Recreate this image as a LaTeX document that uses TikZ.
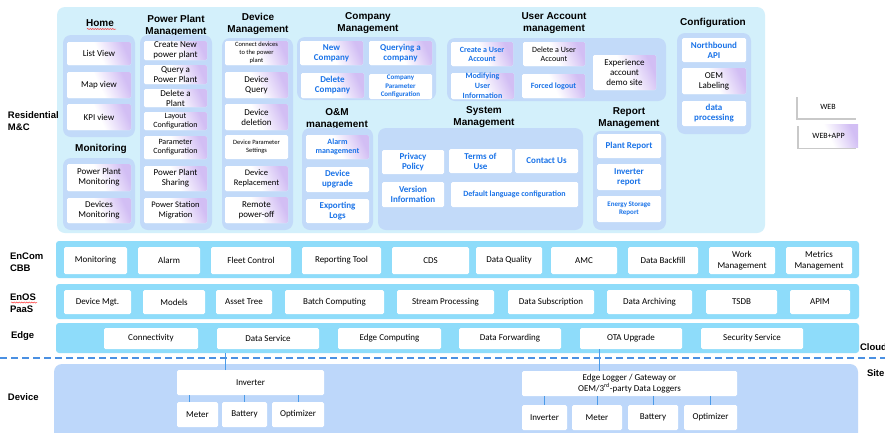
\documentclass[tikz,border=0pt]{standalone}
\usepackage{fontspec}
\setmainfont{Carlito}
\newfontfamily\arf{Liberation Sans}
\usetikzlibrary{shadows,decorations.pathmorphing}
\definecolor{panel}{HTML}{D3F0FB}
\definecolor{grp}{HTML}{C2DAF9}
\definecolor{band}{HTML}{8EDCFA}
\definecolor{devp}{HTML}{BDD7FA}
\definecolor{lav}{HTML}{D2BEF4}
\definecolor{bluetxt}{HTML}{1A73E8}
\definecolor{dashc}{HTML}{4A90E2}
\definecolor{linec}{HTML}{4A9AE8}
\newcommand{\bx}[7]{\node[#1, minimum width={(#5-#3)*1pt}, minimum height={(#6-#4)*1pt}] (#2) at ({(#3+#5)/2},{(#4+#6)/2}) {#7};}
\newcommand{\fsz}[1]{\pgfmathsetmacro\mylsk{#1*1.12}\fontsize{#1}{\mylsk}\selectfont}
\tikzset{
  x=1pt, y=-1pt,
  every node/.style={inner sep=0pt, outer sep=0pt},
  wbox/.style={fill=white, rounded corners=1.5pt, align=center, text=black},
  gbox/.style={wbox, left color=white, right color=lav, middle color=white, shading angle=115},
  grpbox/.style={fill=grp, rounded corners=8pt},
  bandbox/.style={fill=band, rounded corners=3pt},
  bt/.style={text=bluetxt, font=\bfseries\fsz{#1}},
  bt/.default=9,
  nt/.style={font=\fsz{#1}},
  nt/.default=9,
  ttl/.style={font=\arf\bfseries\fontsize{10}{11.5}\selectfont, align=center},
  lbl/.style={font=\arf\bfseries\fontsize{9.5}{12}\selectfont, align=left, anchor=west},
  conn/.style={draw=linec, line width=0.9pt},
  wavy/.style={draw=red!80, line width=0.5pt, decorate, decoration={snake, amplitude=0.6pt, segment length=2.5pt}},
  shad/.style={drop shadow={shadow xshift=-1.6pt, shadow yshift=-1.6pt, opacity=0.35, fill=black!60}}
}
\begin{document}
\begin{tikzpicture}
\clip (0,0) rectangle (885,432);
\useasboundingbox (0,0) rectangle (885,432);
\fill[white] (0,0) rectangle (885,432);

% ===== Residential panel =====
\bx{fill=panel, rounded corners=8pt}{respanel}{57}{7}{765}{233}{}
\node[lbl] (lres) at (8,121) {Residential\\M\&C};

% Home
\node[ttl] (tHome) at (100,23) {Home};
\draw[wavy] (87,29) -- (116,29);
\bx{grpbox}{gHome}{63}{35}{135}{137}{}
\bx{gbox,nt}{hList}{67}{42}{131}{65}{List View}
\bx{gbox,nt}{hMap}{67}{72}{131}{98}{Map view}
\bx{gbox,nt}{hKPI}{67}{104}{131}{130}{KPI view}

% Monitoring
\node[ttl] (tMon) at (101,149) {Monitoring};
\bx{grpbox}{gMon}{63}{158}{135}{230}{}
\bx{gbox,nt}{mPP}{67}{164}{131}{191}{Power Plant\\Monitoring}
\bx{gbox,nt}{mDev}{67}{198}{131}{223}{Devices\\Monitoring}

% Power Plant Management
\node[ttl] (tPPM) at (176,26) {Power Plant\\Management};
\bx{grpbox}{gPPM}{140}{35}{212}{230}{}
\bx{gbox,nt}{cNew}{144}{41}{207}{60}{Create New\\power plant}
\bx{gbox,nt}{qPP}{144}{65}{207}{84}{Query a\\Power Plant}
\bx{gbox,nt}{dPl}{144}{89}{207}{107}{Delete a\\Plant}
\bx{gbox,nt=8}{lay}{144}{112}{207}{130}{Layout\\Configuration}
\bx{gbox,nt=8}{par}{144}{136}{207}{159}{Parameter\\Configuration}
\bx{gbox,nt}{shr}{144}{166}{207}{191}{Power Plant\\Sharing}
\bx{gbox,nt=8.5}{mig}{144}{198}{207}{223}{Power Station\\Migration}

% Device Management
\node[ttl] (tDM) at (258,24) {Device\\Management};
\bx{grpbox}{gDM}{222}{38}{293}{230}{}
\bx{gbox,font=\fontsize{6.5}{8}\selectfont}{con}{225}{41}{288}{65}{Connect devices\\to the power\\plant}
\bx{gbox,nt}{dq}{225}{72}{288}{98}{Device\\Query}
\bx{gbox,nt}{dd}{225}{104}{288}{130}{Device\\deletion}
\bx{wbox,font=\fontsize{6.5}{8}\selectfont}{dps}{225}{135}{288}{159}{Device Parameter\\Settings}
\bx{gbox,nt=8.5}{drep}{225}{166}{288}{191}{Device\\Replacement}
\bx{gbox,nt}{rpo}{225}{197}{288}{223}{Remote\\power-off}

% Company Management
\node[ttl] (tCM) at (368,23) {Company\\Management};
\bx{grpbox}{gCM}{297}{37}{436}{100}{}
\bx{gbox,bt}{nc}{300}{41}{363}{65}{New\\Company}
\bx{gbox,bt}{qc}{369}{41}{432}{65}{Querying a\\company}
\bx{gbox,bt}{dc}{301}{73}{364}{98}{Delete\\Company}
\bx{wbox,text=bluetxt,font=\bfseries\fontsize{7}{8.5}\selectfont}{cpc}{369}{74}{432}{99}{Company\\Parameter\\Configuration}

% O&M management
\node[ttl] (tOM) at (337,119) {O\&M\\management};
\bx{grpbox}{gOM}{302}{128}{373}{230}{}
\bx{gbox,bt=8}{alm}{306}{135}{369}{159}{Alarm\\management}
\bx{wbox,bt}{dup}{306}{167}{369}{192}{Device\\upgrade}
\bx{wbox,bt}{exl}{306}{199}{369}{223}{Exporting\\Logs}

% System Management
\node[ttl] (tSM) at (484,117) {System\\Management};
\bx{grpbox}{gSM}{378}{128}{583}{230}{}
\bx{wbox,bt}{pp}{382}{150}{444}{174}{Privacy\\Policy}
\bx{wbox,bt}{tou}{449}{149}{512}{173}{Terms of\\Use}
\bx{wbox,bt}{cu}{515}{149}{578}{173}{Contact Us}
\bx{wbox,bt}{vi}{382}{182}{444}{207}{Version\\Information}
\bx{wbox,bt=8}{dlc}{451}{182}{578}{207}{Default language configuration}

% User Account management
\node[ttl] (tUA) at (554,23) {User Account\\management};
\bx{grpbox}{gUA}{447}{38}{666}{101}{}
\bx{gbox,bt=8}{cua}{451}{42}{513}{66}{Create a User\\Account}
\bx{gbox,nt=8}{dua}{523}{42}{585}{66}{Delete a User\\Account}
\bx{gbox,nt}{exp}{593}{55}{656}{90}{Experience\\account\\demo site}
\bx{gbox,text=bluetxt,font=\bfseries\fontsize{8}{9.8}\selectfont}{mui}{451}{73}{514}{99}{Modifying\\User\\Information}
\bx{gbox,bt=8}{fl}{522}{74}{585}{98}{Forced logout}

% Report Management
\node[ttl] (tRM) at (629,118) {Report\\Management};
\bx{grpbox}{gRM}{593}{131}{666}{230}{}
\bx{wbox,bt}{pr}{597}{134}{661}{158}{Plant Report}
\bx{wbox,bt}{ir}{597}{164}{661}{190}{Inverter\\report}
\bx{wbox,text=bluetxt,font=\bfseries\fontsize{7}{8}\selectfont}{esr}{597}{196}{661}{222}{Energy Storage\\Report}

% Configuration
\node[ttl] (tCfg) at (713,23) {Configuration};
\bx{grpbox}{gCfg}{677}{33}{751}{134}{}
\bx{wbox,bt}{nba}{682}{38}{746}{62}{Northbound\\API}
\bx{gbox,nt}{oem}{682}{68}{746}{94}{OEM\\Labeling}
\bx{wbox,bt}{dp}{682}{101}{746}{126}{data\\processing}

% Legend
\bx{wbox,shad,nt=8,rounded corners=0pt}{lweb}{798}{95}{858}{118}{WEB}
\bx{gbox,shad,nt=8,rounded corners=0pt}{lwa}{799}{124}{858}{147}{WEB+APP}

% ===== EnCom CBB =====
\bx{bandbox}{encom}{56}{241}{859}{278}{}
\node[lbl] (lenc) at (10,262) {EnCom\\CBB};
\bx{wbox,nt}{e1}{64}{247}{127}{274}{Monitoring}
\bx{wbox,nt}{e2}{138}{247}{200}{274}{Alarm}
\bx{wbox,nt}{e3}{211}{247}{291}{274}{Fleet Control}
\bx{wbox,nt}{e4}{302}{247}{381}{274}{Reporting Tool}
\bx{wbox,nt}{e5}{392}{247}{469}{274}{CDS}
\bx{wbox,nt}{e6}{476}{247}{542}{274}{Data Quality}
\bx{wbox,nt}{e7}{551}{247}{617}{274}{AMC}
\bx{wbox,nt}{e8}{628}{247}{698}{274}{Data Backfill}
\bx{wbox,font=\fontsize{9}{11}\selectfont}{e9}{709}{247}{775}{274}{Work\\Management}
\bx{wbox,font=\fontsize{9}{11}\selectfont}{e10}{786}{247}{852}{274}{Metrics\\Management}

% ===== EnOS PaaS =====
\bx{bandbox}{enos}{56}{284}{859}{319}{}
\node[lbl] (lenos) at (10,303) {EnOS\\PaaS};
\draw[wavy] (11,302.5) -- (37,302.5);
\bx{wbox,nt}{p1}{64}{290}{131}{314}{Device Mgt.}
\bx{wbox,nt}{p2}{143}{290}{205}{314}{Models}
\bx{wbox,nt}{p3}{216}{290}{272}{314}{Asset Tree}
\bx{wbox,nt}{p4}{285}{290}{384}{314}{Batch Computing}
\bx{wbox,nt}{p5}{397}{290}{494}{314}{Stream Processing}
\bx{wbox,nt}{p6}{508}{290}{594}{314}{Data Subscription}
\bx{wbox,nt}{p7}{607}{290}{692}{314}{Data Archiving}
\bx{wbox,nt}{p8}{706}{290}{777}{314}{TSDB}
\bx{wbox,nt}{p9}{790}{290}{850}{314}{APIM}

% ===== Edge =====
\bx{bandbox}{edge}{56}{323}{859}{353}{}
\node[lbl] (ledge) at (11,336) {Edge};
\bx{wbox,nt}{g1}{104}{328}{198}{349}{Connectivity}
\bx{wbox,nt}{g2}{217}{328}{319}{349}{Data Service}
\bx{wbox,nt}{g3}{338}{328}{441}{349}{Edge Computing}
\bx{wbox,nt}{g4}{459}{328}{561}{349}{Data Forwarding}
\bx{wbox,nt}{ota}{580}{328}{682}{349}{OTA Upgrade}
\bx{wbox,nt}{g6}{701}{328}{803}{349}{Security Service}

% Cloud / Site
\coordinate (dl) at (0,358);
\coordinate (dr) at (885,358);
\draw[dashc, line width=1.8pt, dash pattern=on 7pt off 4pt] (dl) -- (dr);
\node[lbl] (lcloud) at (860,347) {Cloud};
\node[lbl] (lsite) at (867,373) {Site};

% ===== Device =====
\bx{fill=devp, rounded corners=8pt}{devpanel}{54}{364}{858}{460}{}
\node[lbl] (ldev) at (8,397) {Device};

\bx{wbox,nt}{inv}{177}{370}{324}{395}{Inverter}
\bx{wbox,nt}{met}{177}{402}{218}{427}{Meter}
\bx{wbox,nt}{bat}{222}{402}{267}{427}{Battery}
\bx{wbox,nt}{opt}{272}{402}{324}{427}{Optimizer}

\coordinate (x1) at (225,0);
\coordinate (t1) at (189,0);
\coordinate (t2) at (244,0);
\coordinate (t3) at (298,0);
\draw[conn] (inv.north -| x1) -- (edge.south -| x1);
\draw[conn] (inv.south -| t1) -- (met.north -| t1);
\draw[conn] (inv.south -| t2) -- (bat.north -| t2);
\draw[conn] (inv.south -| t3) -- (opt.north -| t3);

\bx{wbox,font=\fontsize{9}{10.5}\selectfont}{logr}{522}{371}{737}{396}{Edge Logger / Gateway or\\OEM/3\textsuperscript{rd}-party Data Loggers}
\bx{wbox,nt}{linv}{522}{405}{567}{430}{Inverter}
\bx{wbox,nt}{lmet}{572}{405}{622}{430}{Meter}
\bx{wbox,nt}{lbat}{628}{405}{678}{430}{Battery}
\bx{wbox,nt}{lopt}{684}{405}{737}{430}{Optimizer}

\coordinate (x2) at (599,0);
\draw[conn] (logr.north -| x2) -- (ota.south -| x2);
\draw[conn] (logr.south -| linv.north) -- (linv.north);
\draw[conn] (logr.south -| lmet.north) -- (lmet.north);
\draw[conn] (logr.south -| lbat.north) -- (lbat.north);
\draw[conn] (logr.south -| lopt.north) -- (lopt.north);
\end{tikzpicture}
\end{document}
